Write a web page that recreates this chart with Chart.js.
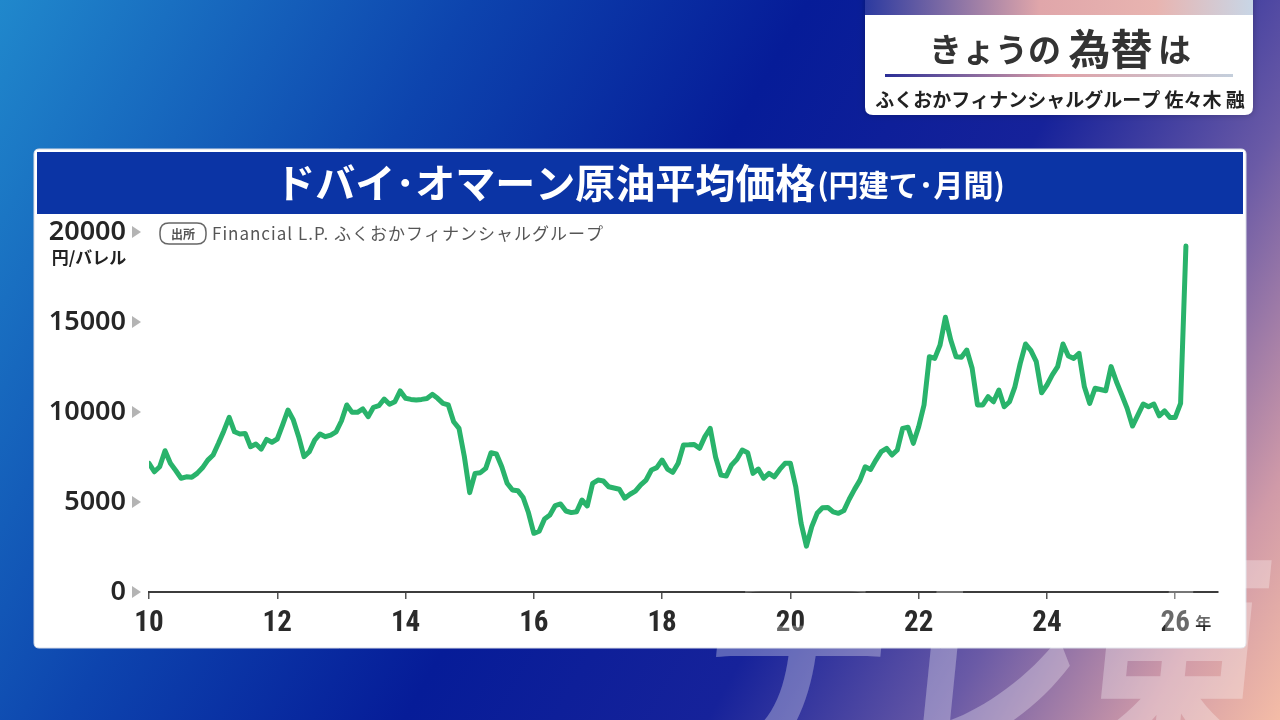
<!DOCTYPE html>
<html><head><meta charset="utf-8">
<script src="https://cdn.jsdelivr.net/npm/chart.js@4.4.1/dist/chart.umd.min.js"></script>
<style>html,body{margin:0;padding:0;background:#0a1fa0;overflow:hidden}canvas{display:block}</style>
</head><body><canvas id="c" width="1280" height="720"></canvas>
<script>
// ---- data (円/バレル, monthly, Jan 2010 .. Mar 2026) ----
const startYear = 2010;
const y2010 = [7150, 6680, 6960, 7850, 7150, 6750, 6320, 6400, 6370, 6590, 6900, 7330];
const y2011 = [7610, 8260, 8950, 9700, 8900, 8780, 8810, 8070, 8220, 7940, 8480, 8320];
const y2012 = [8500, 9280, 10110, 9560, 8630, 7520, 7800, 8440, 8780, 8630, 8720, 8900];
const y2013 = [9500, 10390, 9980, 9980, 10170, 9740, 10260, 10350, 10720, 10430, 10570, 11170];
const y2014 = [10760, 10700, 10670, 10700, 10750, 10980, 10760, 10480, 10390, 9460, 9090, 7520];
const y2015 = [5520, 6590, 6630, 6870, 7740, 7670, 6960, 6040, 5670, 5630, 5250, 4400];
const y2016 = [3260, 3380, 4060, 4280, 4800, 4890, 4500, 4410, 4460, 5110, 4780, 6040];
const y2017 = [6220, 6170, 5850, 5780, 5710, 5210, 5430, 5600, 5950, 6220, 6780, 6910];
const y2018 = [7330, 6830, 6650, 7150, 8170, 8180, 8200, 7980, 8630, 9090, 7500, 6500];
const y2019 = [6440, 7060, 7370, 7890, 7740, 6590, 6830, 6320, 6590, 6400, 6810, 7150];
const y2020 = [7150, 5850, 3820, 2550, 3630, 4370, 4680, 4700, 4450, 4370, 4520, 5150];
const y2021 = [5700, 6200, 6960, 6810, 7330, 7800, 7980, 7610, 7890, 9090, 9150, 8260];
const y2022 = [9180, 10390, 13070, 12980, 13720, 15260, 14000, 13070, 13040, 13440, 12430, 10390];
const y2023 = [10390, 10850, 10570, 11220, 10290, 10570, 11400, 12700, 13780, 13410, 12800, 11070];
const y2024 = [11500, 12060, 12520, 13780, 13110, 12980, 13260, 11400, 10480, 11320, 11250, 11180];
const y2025 = [12520, 11680, 10950, 10200, 9220, 9830, 10440, 10290, 10440, 9790, 10060, 9700];
const y2026 = [9700, 10480, 19220];

const xTicks = [2010, 2012, 2014, 2016, 2018, 2020, 2022, 2024, 2026];
const xTickLabels = ['10', '12', '14', '16', '18', '20', '22', '24', '26'];
const yTicks = [0, 5000, 10000, 15000, 20000];
const yTickLabels = ['0', '5000', '10000', '15000', '20000'];

const values = [].concat(y2010, y2011, y2012, y2013, y2014, y2015, y2016, y2017, y2018, y2019, y2020, y2021, y2022, y2023, y2024, y2025, y2026);
const points = values.map((v, i) => ({ x: startYear + i / 12, y: v }));

const JP = '"Noto Sans CJK JP", "Noto Sans", sans-serif';

function rr(ctx, x, y, w, h, r) {
  ctx.beginPath();
  ctx.moveTo(x + r, y); ctx.lineTo(x + w - r, y); ctx.quadraticCurveTo(x + w, y, x + w, y + r);
  ctx.lineTo(x + w, y + h - r); ctx.quadraticCurveTo(x + w, y + h, x + w - r, y + h);
  ctx.lineTo(x + r, y + h); ctx.quadraticCurveTo(x, y + h, x, y + h - r);
  ctx.lineTo(x, y + r); ctx.quadraticCurveTo(x, y, x + r, y); ctx.closePath();
}

const bgPlugin = {
  id: 'bg',
  beforeDraw(chart) {
    const ctx = chart.ctx;
    ctx.save();
    // background gradient
    const g = ctx.createLinearGradient(0, 0, 1280, 720);
    g.addColorStop(0, '#2088cc');
    g.addColorStop(0.28, '#0d44ae');
    g.addColorStop(0.48, '#061c98');
    g.addColorStop(0.66, '#16229a');
    g.addColorStop(0.8, '#6a5aa6');
    g.addColorStop(0.92, '#d09aa8');
    g.addColorStop(1, '#f4bca6');
    ctx.fillStyle = g;
    ctx.fillRect(0, 0, 1280, 720);

    // top-right box
    ctx.shadowColor = 'rgba(0,0,0,0.25)'; ctx.shadowBlur = 6;
    rr(ctx, 865, -10, 388, 125, 8);
    ctx.fillStyle = '#ffffff'; ctx.fill();
    ctx.shadowBlur = 0; ctx.shadowColor = 'transparent';
    ctx.save(); rr(ctx, 865, -10, 388, 125, 8); ctx.clip();
    const tg = ctx.createLinearGradient(865, 0, 1253, 0);
    tg.addColorStop(0, '#2c3aa0'); tg.addColorStop(0.45, '#e0a6aa'); tg.addColorStop(0.75, '#e8b4b0'); tg.addColorStop(1, '#c8d6e6');
    ctx.fillStyle = tg; ctx.fillRect(865, 0, 388, 15);
    ctx.restore();
    // underline
    const ug = ctx.createLinearGradient(885, 0, 1233, 0);
    ug.addColorStop(0, '#2a2e96'); ug.addColorStop(0.5, '#e0a0a6'); ug.addColorStop(1, '#c4cfdc');
    ctx.fillStyle = ug; ctx.fillRect(885, 74, 348, 3);
    // box title
    ctx.fillStyle = '#333333'; ctx.textBaseline = 'middle';
    const parts = [['きょうの', 'bold 33px ' + JP], [' ', 'bold 33px ' + JP], ['為替', 'bold 42px ' + JP], [' ', 'bold 24px ' + JP], ['は', 'bold 33px ' + JP]];
    let tw = 0; parts.forEach(p => { ctx.font = p[1]; tw += ctx.measureText(p[0]).width; });
    let tx = 1060 - tw / 2;
    ctx.textAlign = 'left';
    parts.forEach(p => { ctx.font = p[1]; ctx.fillText(p[0], tx, 49); tx += ctx.measureText(p[0]).width; });
    ctx.font = 'bold 19px ' + JP; ctx.textAlign = 'center'; ctx.fillStyle = '#222';
    ctx.fillText('ふくおかフィナンシャルグループ 佐々木 融', 1060, 100);

    // chart panel
    rr(ctx, 34, 149, 1212, 499, 5);
    ctx.fillStyle = '#ffffff'; ctx.fill();
    ctx.strokeStyle = '#d8dce6'; ctx.lineWidth = 1; ctx.stroke();
    ctx.fillStyle = '#0b34a5';
    ctx.fillRect(37, 152, 1206, 62);
    // chart title
    ctx.fillStyle = '#ffffff'; ctx.textBaseline = 'middle'; ctx.textAlign = 'left';
    const t1 = 'ドバイ\uFF65オマーン原油平均価格', t2 = '(円建て\uFF65月間)';
    ctx.font = 'bold 40px ' + JP; const w1 = ctx.measureText(t1).width;
    ctx.font = 'bold 30px ' + JP; const w2 = ctx.measureText(t2).width;
    const sx = 640 - (w1 + w2 + 2) / 2;
    ctx.font = 'bold 40px ' + JP; ctx.fillText(t1, sx, 183);
    ctx.font = 'bold 30px ' + JP; ctx.fillText(t2, sx + w1 + 2, 185);

    // source
    rr(ctx, 160, 223, 46, 21, 9);
    ctx.strokeStyle = '#666'; ctx.lineWidth = 1.5; ctx.stroke();
    ctx.fillStyle = '#555'; ctx.font = 'bold 12px ' + JP; ctx.textAlign = 'center';
    ctx.fillText('出所', 183, 234);
    ctx.textAlign = 'left'; ctx.font = '17px ' + JP; ctx.fillStyle = '#555';
    ctx.letterSpacing = '1px';
    ctx.fillText('Financial L.P. ふくおかフィナンシャルグループ', 212, 234);
    ctx.letterSpacing = '0px';
    // unit
    ctx.fillStyle = '#222'; ctx.font = 'bold 17px ' + JP; ctx.textAlign = 'center';
    ctx.fillText('円/バレル', 89, 258);
    ctx.restore();
  }
};

const overlayPlugin = {
  id: 'overlay',
  afterDraw(chart) {
    const ctx = chart.ctx;
    const ys = chart.scales.y, xs = chart.scales.x;
    ctx.save();
    // tick triangles
    ctx.fillStyle = '#b4b4b4';
    yTicks.forEach(v => {
      const py = ys.getPixelForValue(v);
      ctx.beginPath(); ctx.moveTo(132, py - 6); ctx.lineTo(141, py); ctx.lineTo(132, py + 6); ctx.closePath(); ctx.fill();
    });
    // 年
    ctx.fillStyle = '#2a2a2a'; ctx.font = 'bold 16px ' + JP; ctx.textAlign = 'left'; ctx.textBaseline = 'middle';
    ctx.fillText('年', xs.getPixelForValue(2026) + 20, 623);
    // watermark
    ctx.globalAlpha = 0.3; ctx.fillStyle = '#ffffff';
    ctx.font = 'bold 250px ' + JP; ctx.textBaseline = 'alphabetic';
    [['テ', 690], ['レ', 880], ['東', 1068]].forEach(([ch, x]) => {
      ctx.save();
      ctx.translate(x, 752); ctx.transform(0.78, 0, -0.1, 1, 0, 0);
      ctx.fillText(ch, 0, 0);
      ctx.restore();
    });
    ctx.restore();
  }
};

new Chart(document.getElementById('c').getContext('2d'), {
  type: 'line',
  data: { datasets: [{ data: points, borderColor: '#29b36b', borderWidth: 5, pointRadius: 0, tension: 0, borderJoinStyle: 'round', borderCapStyle: 'round', fill: false }] },
  options: {
    responsive: false, animation: false, devicePixelRatio: 1,
    layout: { padding: { left: 0, right: 62, top: 232, bottom: 0 } },
    plugins: { legend: { display: false }, tooltip: { enabled: false } },
    scales: {
      x: {
        type: 'linear', min: 2010, max: 2010 + 200 / 12,
        afterBuildTicks(s) { s.ticks = xTicks.map(v => ({ value: v })); },
        afterFit(s) { s.height = 128; },
        ticks: { autoSkip: false, maxRotation: 0, padding: 7, color: '#2a2a2a',
          font: { family: '"Liberation Sans Narrow", "Roboto Condensed", "Roboto", sans-serif', size: 29, weight: 'bold' },
          callback: (v) => xTickLabels[xTicks.indexOf(v)] },
        grid: { drawOnChartArea: false, drawTicks: true, tickLength: 7, color: '#555', lineWidth: 1.5 },
        border: { display: true, color: '#3c3c3c', width: 2 }
      },
      y: {
        min: 0, max: 20000,
        afterBuildTicks(s) { s.ticks = yTicks.map(v => ({ value: v })); },
        afterFit(s) { s.width = 149; },
        ticks: { padding: 23, color: '#262626', font: { family: '"Noto Sans", sans-serif', size: 27, weight: '600' },
          callback: (v) => yTickLabels[yTicks.indexOf(v)] },
        grid: { display: false, drawTicks: false },
        border: { display: false }
      }
    }
  },
  plugins: [bgPlugin, overlayPlugin]
});
</script></body></html>
